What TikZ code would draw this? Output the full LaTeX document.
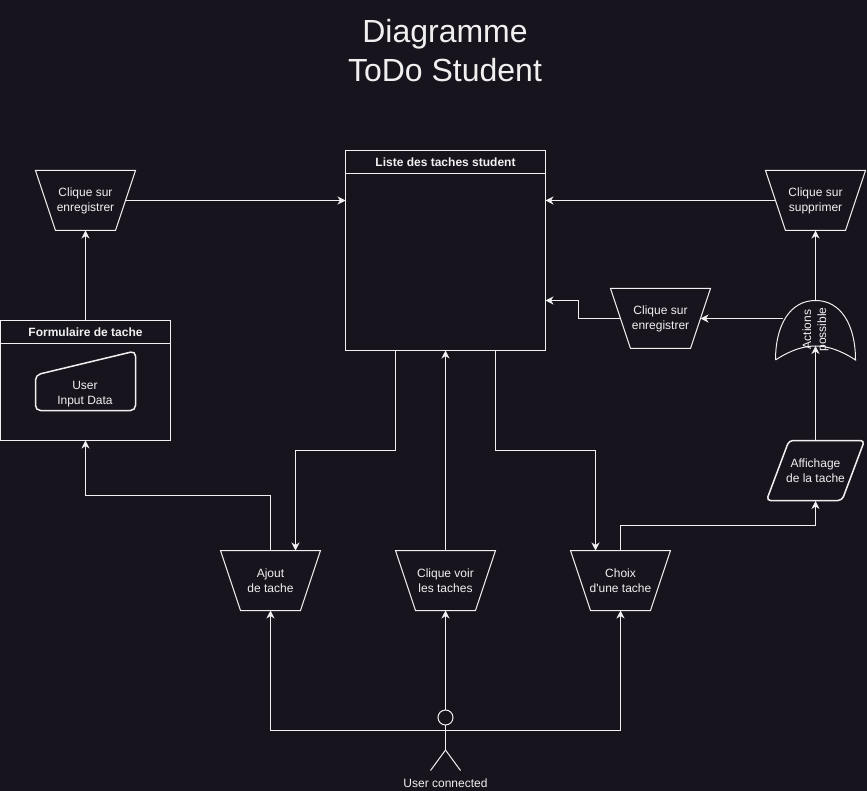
\documentclass[tikz,border=0pt]{standalone}
\usepackage{fontspec}
\setmainfont{Liberation Sans}
\usetikzlibrary{calc, arrows.meta, shapes.geometric}
\definecolor{bgdark}{HTML}{18141D}
\definecolor{inkwhite}{HTML}{F0F0F0}

\begin{document}
\begin{tikzpicture}[x=1pt,y=-1pt,line width=1pt,
    txt/.style={text=inkwhite,font=\fontsize{12}{15}\selectfont,align=center,inner sep=0pt},
    link/.style={draw=inkwhite,-{Stealth[length=8pt,width=8pt,inset=2.5pt]}},
    clic/.style={txt,minimum width=100pt,minimum height=60pt,outer sep=0pt},
    lane/.style={draw=inkwhite,minimum width=#1,outer sep=0pt,inner sep=0pt},
    lanehead/.style={lane=#1,txt,draw=inkwhite,minimum height=23pt,font=\fontsize{12}{15}\selectfont\bfseries}]
    \fill[bgdark] (0,0) rectangle (867,791);
    \useasboundingbox (0,0) rectangle (867,791);
    \node[text=inkwhite,font=\fontsize{32}{39}\selectfont,align=center,inner sep=0pt] (titre) at (445,50.5) {Diagramme\\ToDo Student};
    % listes
    \node[lane=200pt,minimum height=200pt] (liste) at (445.5,250.5) {};
    \node[lanehead=200pt] (listeTete) at (445.5,162) {Liste des taches student};
    \node[lane=170pt,minimum height=120pt] (form) at (85.5,380.5) {};
    \node[lanehead=170pt] (formTete) at (85.5,332) {Formulaire de tache};
    \node[txt,minimum width=100pt,minimum height=36pt] (input) at (85,394) {User\\Input Data};
    \draw[inkwhite,line width=1.5pt,rounded corners=5pt] (35.5,375) -- (135.5,351) -- (135.5,410.5) -- (35.5,410.5) -- cycle;
    % clics
    \node[clic] (enrGauche) at (85.5,200.5) {Clique sur\\enregistrer};
    \node[clic] (supprimer) at (815.5,200.5) {Clique sur\\supprimer};
    \node[clic] (enrDroite) at (660.5,318.5) {Clique sur\\enregistrer};
    \node[clic] (ajout) at (270.5,580.5) {Ajout\\de tache};
    \node[clic] (voir) at (445.5,580.5) {Clique voir\\les taches};
    \node[clic] (choix) at (620.5,580.5) {Choix\\d\textquotesingle une tache};
    \foreach \n in {enrGauche,supprimer,enrDroite,ajout,voir,choix}{
        \draw[inkwhite] (\n.north west) -- (\n.north east) -- ([xshift=-20pt]\n.south east) -- ([xshift=20pt]\n.south west) -- cycle;
    }
    % affichage et actions
    \node[txt,minimum width=100pt,minimum height=60pt] (affichage) at (815.5,470.5) {Affichage\\de la tache};
    \draw[inkwhite,line width=1.5pt,rounded corners=4pt] (789,440.5) -- (864.5,440.5) -- (842,500.5) -- (766.5,500.5) -- cycle;
    \node[minimum width=80pt,minimum height=60pt,inner sep=0pt,outer sep=0pt] (actions) at (815.5,330.5) {};
    \draw[inkwhite] (775.5,360) .. controls (775.5,325) and (790,300.5) .. (815.5,300.5) .. controls (841,300.5) and (855.5,325) .. (855.5,360) .. controls (841,350.5) and (828,346) .. (815.5,346) .. controls (803,346) and (790,350.5) .. (775.5,360);
    \node[txt,rotate=90] (actionsTxt) at (815.5,329.5) {Actions\\possible};
    \coordinate (actionsIn) at (815.5,346);
    \coordinate (actionsOut) at (783,318.5);
    % acteur
    \node[circle,draw=inkwhite,minimum size=15pt,inner sep=0pt,outer sep=0pt] (user) at (445.5,717.5) {};
    \coordinate (userBas) at (445.5,750);
    \coordinate (userBras) at (445.5,730.5);
    \draw[inkwhite] (user.south) -- (userBas);
    \draw[inkwhite] (userBas) -- ++(-15,20.5);
    \draw[inkwhite] (userBas) -- ++(15,20.5);
    \node[txt] (userTxt) at (445.5,783.5) {User connected};
    % liens
    \draw[link] (user.north) -- (voir.south);
    \draw[link] (userBras) -| (ajout.south);
    \draw[link] (userBras) -| (choix.south);
    \draw[link] (voir.north) -- (liste.south);
    \draw[link] ([xshift=-50pt]liste.south) -- ++(0,100) -| ([xshift=25pt]ajout.north);
    \draw[link] ([xshift=50pt]liste.south) -- ++(0,100) -| ([xshift=-25pt]choix.north);
    \draw[link] (ajout.north) -- ++(0,-55) -| (form.south);
    \draw[link] (formTete.north) -- (enrGauche.south);
    \draw[link] ([xshift=-10pt]enrGauche.east) -- ([yshift=50pt]liste.west);
    \draw[link] (choix.north) -- ++(0,-25) -| (affichage.south);
    \draw[link] (affichage.north) -- (actionsIn);
    \draw[link] (actions.north) -- (supprimer.south);
    \draw[link] (actionsOut) -- ([xshift=-10pt]enrDroite.east);
    \draw[link] ([xshift=10pt]enrDroite.west) -- ++(-42,0) -- ++(0,-18) -- ([yshift=-50pt]liste.east);
    \draw[link] ([xshift=10pt]supprimer.west) -- ([yshift=50pt]liste.east);
\end{tikzpicture}
\end{document}
